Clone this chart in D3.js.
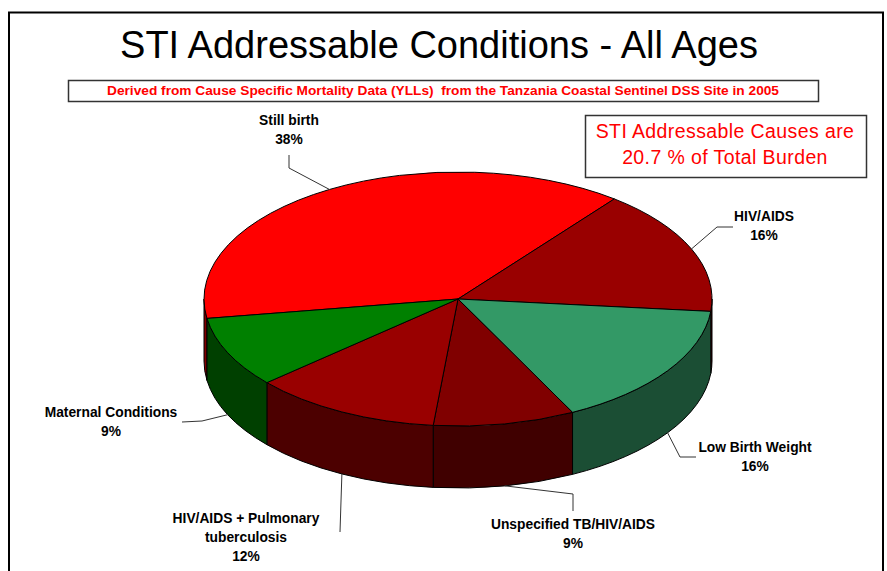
<!DOCTYPE html>
<html>
<head>
<meta charset="utf-8">
<script src="https://cdn.jsdelivr.net/npm/d3@7"></script>
<style>
  html, body { margin: 0; padding: 0; background: #fff; }
  svg { display: block; font-family: "Liberation Sans", Arial, sans-serif; }
  .pre { white-space: pre; }
</style>
</head>
<body>
<svg id="chart" width="887" height="571"></svg>
<script>
// ---- data ----
const categories = ["Still birth", "HIV/AIDS", "Low Birth Weight", "Unspecified TB/HIV/AIDS",
                    "HIV/AIDS + Pulmonary tuberculosis", "Maternal Conditions"];
const values = [38, 16, 16, 9, 12, 9];
const labelLines = [["Still birth"], ["HIV/AIDS"], ["Low Birth Weight"], ["Unspecified TB/HIV/AIDS"],
                    ["HIV/AIDS + Pulmonary", "tuberculosis"], ["Maternal Conditions"]];
const titleText = "STI Addressable Conditions - All Ages";
const subtitleText = "Derived from Cause Specific Mortality Data (YLLs)  from the Tanzania Coastal Sentinel DSS Site in 2005";
const noteLines = ["STI Addressable Causes are", "20.7 % of Total Burden"];

// ---- styles / layout ----
const topColors  = ["#FF0000", "#990000", "#339966", "#800000", "#990000", "#008000"];
const sideColors = ["#800000", "#4C0000", "#1B4E34", "#400000", "#4C0000", "#004000"];
const cx = 458, cy = 299, rx = 254, ry = 127, depth = 62;
const startDeg = -98.8;
// label layout: elbow points, line end, text centre x, first baseline
const labelLayout = [
  { pts: [[289, 168], [289, 155]], tx: 289, ty: 125 },
  { pts: [[717, 227], [733, 227]], tx: 764, ty: 221 },
  { pts: [[680, 457], [696, 457]], tx: 755, ty: 452 },
  { pts: [[573, 494], [573, 511]], tx: 573, ty: 529 },
  { pts: [[340, 532]], tx: 246, ty: 523 },
  { pts: [[202, 421], [182, 422]], tx: 111, ty: 417 }
];

const svg = d3.select("#chart");

// frame
svg.append("rect").attr("x", 9).attr("y", 12.5).attr("width", 874).attr("height", 620)
  .attr("fill", "#fff").attr("stroke", "#000").attr("stroke-width", 2);

// title
svg.append("text").attr("x", 439).attr("y", 58).attr("text-anchor", "middle")
  .attr("font-size", 38).attr("fill", "#000").text(titleText);

// subtitle box
svg.append("rect").attr("x", 68.5).attr("y", 80.5).attr("width", 750).attr("height", 21)
  .attr("fill", "#fff").attr("stroke", "#333").attr("stroke-width", 1.5);
svg.append("text").attr("class", "pre").attr("xml:space", "preserve")
  .attr("x", 443).attr("y", 95).attr("text-anchor", "middle")
  .attr("font-size", 12).attr("font-weight", "bold").attr("fill", "#FF0000")
  .attr("textLength", 672).attr("lengthAdjust", "spacingAndGlyphs")
  .text(subtitleText);

// note box
svg.append("rect").attr("x", 585.5).attr("y", 115.5).attr("width", 281).attr("height", 62)
  .attr("fill", "#fff").attr("stroke", "#333").attr("stroke-width", 1.5);
svg.selectAll("text.note").data(noteLines).join("text").attr("class", "note")
  .attr("x", 725).attr("y", (d, i) => 138 + i * 25.5).attr("text-anchor", "middle")
  .attr("font-size", 19.5).attr("fill", "#FF0000").attr("letter-spacing", 0.4)
  .text(d => d);

// ---- pie ----
const toRad = d => d * Math.PI / 180;
const pie = d3.pie().sort(null).value(d => d)
  .startAngle(toRad(startDeg)).endAngle(toRad(startDeg) + 2 * Math.PI);
const arcs = pie(values);

const pt = (a, dy = 0) => [cx + rx * Math.sin(a), cy - ry * Math.cos(a) + dy];
const P = p => p[0].toFixed(2) + "," + p[1].toFixed(2);

// side walls (front half visible: angle in [pi/2, 3pi/2] modulo 2pi)
const sideG = svg.append("g");
arcs.forEach((d, i) => {
  [0, -2 * Math.PI].forEach(off => {
    const lo = Math.max(d.startAngle, Math.PI / 2 + off);
    const hi = Math.min(d.endAngle, 3 * Math.PI / 2 + off);
    if (hi - lo > 1e-4) {
      const path = "M" + P(pt(lo)) + "A" + rx + "," + ry + " 0 0 1 " + P(pt(hi)) +
        "L" + P(pt(hi, depth)) + "A" + rx + "," + ry + " 0 0 0 " + P(pt(lo, depth)) + "Z";
      sideG.append("path").attr("d", path).attr("fill", sideColors[i])
        .attr("stroke", "#000").attr("stroke-width", 1).attr("stroke-linejoin", "round");
    }
  });
});

// top faces
svg.append("g").selectAll("path").data(arcs).join("path")
  .attr("d", d => {
    const large = (d.endAngle - d.startAngle) > Math.PI ? 1 : 0;
    return "M" + cx + "," + cy + "L" + P(pt(d.startAngle)) + "A" + rx + "," + ry +
      " 0 " + large + " 1 " + P(pt(d.endAngle)) + "Z";
  })
  .attr("fill", (d, i) => topColors[i])
  .attr("stroke", "#000").attr("stroke-width", 1).attr("stroke-linejoin", "round");

// leader lines + labels
const total = d3.sum(values);
arcs.forEach((d, i) => {
  const mid = (d.startAngle + d.endAngle) / 2;
  const front = Math.cos(mid) < 0;
  const anchor = pt(mid, front ? depth : 0);
  const L = labelLayout[i];
  const line = d3.line();
  svg.append("path").attr("d", line([anchor, ...L.pts])).attr("fill", "none")
    .attr("stroke", "#333").attr("stroke-width", 1);
  const lines = [...labelLines[i], Math.round(values[i] / total * 100) + "%"];
  svg.selectAll(null).data(lines).join("text")
    .attr("x", L.tx).attr("y", (t, j) => L.ty + j * 19)
    .attr("text-anchor", "middle").attr("font-size", 13.8).attr("font-weight", "bold")
    .attr("fill", "#000").text(t => t);
});
</script>
</body>
</html>
